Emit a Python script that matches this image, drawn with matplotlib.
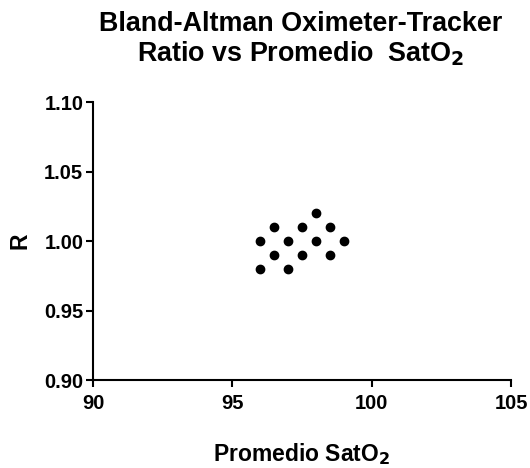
import matplotlib
matplotlib.use("Agg")
import matplotlib.pyplot as plt

# Bland-Altman ratio data
promedio_sat = [96, 96, 96.5, 96.5, 97, 97, 97.5, 97.5, 98, 98, 98.5, 98.5, 99]
ratio = [1.00, 0.98, 1.01, 0.99, 1.00, 0.98, 1.01, 0.99, 1.02, 1.00, 1.01, 0.99, 1.00]

x_ticks = [90, 95, 100, 105]
y_ticks = [0.90, 0.95, 1.00, 1.05, 1.10]

plt.rcParams['font.family'] = ['Liberation Sans', 'DejaVu Sans']
plt.rcParams['font.weight'] = 'bold'

fig = plt.figure(figsize=(5.3, 4.68), dpi=100)
ax = fig.add_axes([0.1755, 0.188, 0.789, 0.594])

ax.scatter(promedio_sat, ratio, s=36, color='black', zorder=3, clip_on=False)

ax.set_xlim(90, 105)
ax.set_ylim(0.90, 1.10)
ax.set_xticks(x_ticks)
ax.set_xticklabels([str(t) for t in x_ticks])
ax.set_yticks(y_ticks)
ax.set_yticklabels(['%.2f' % t for t in y_ticks])

for side in ['top', 'right']:
    ax.spines[side].set_visible(False)
for side in ['left', 'bottom']:
    ax.spines[side].set_linewidth(1.5)
ax.tick_params(width=1.5, length=5, labelsize=14.5)
ax.tick_params(axis='x', pad=5)
ax.tick_params(axis='y', pad=2)
for lbl in ax.get_xticklabels() + ax.get_yticklabels():
    lbl.set_fontweight('bold')

ax.set_xlabel('Promedio SatO$_\\mathbf{2}$', fontsize=16.5, fontweight='bold')
ax.xaxis.set_label_coords(0.5, -0.22)
ax.set_ylabel('R', fontsize=16.5, fontweight='bold')
ax.yaxis.set_label_coords(-0.148, 0.5)

fig.text(0.568, 1 - 31 / 468, 'Bland-Altman Oximeter-Tracker', ha='center', va='baseline',
         fontsize=19.4, fontweight='bold')
fig.text(0.568, 1 - 62 / 468, 'Ratio vs Promedio  SatO$_\\mathbf{2}$', ha='center', va='baseline',
         fontsize=19.4, fontweight='bold')

fig.savefig('out.png', dpi=100)
